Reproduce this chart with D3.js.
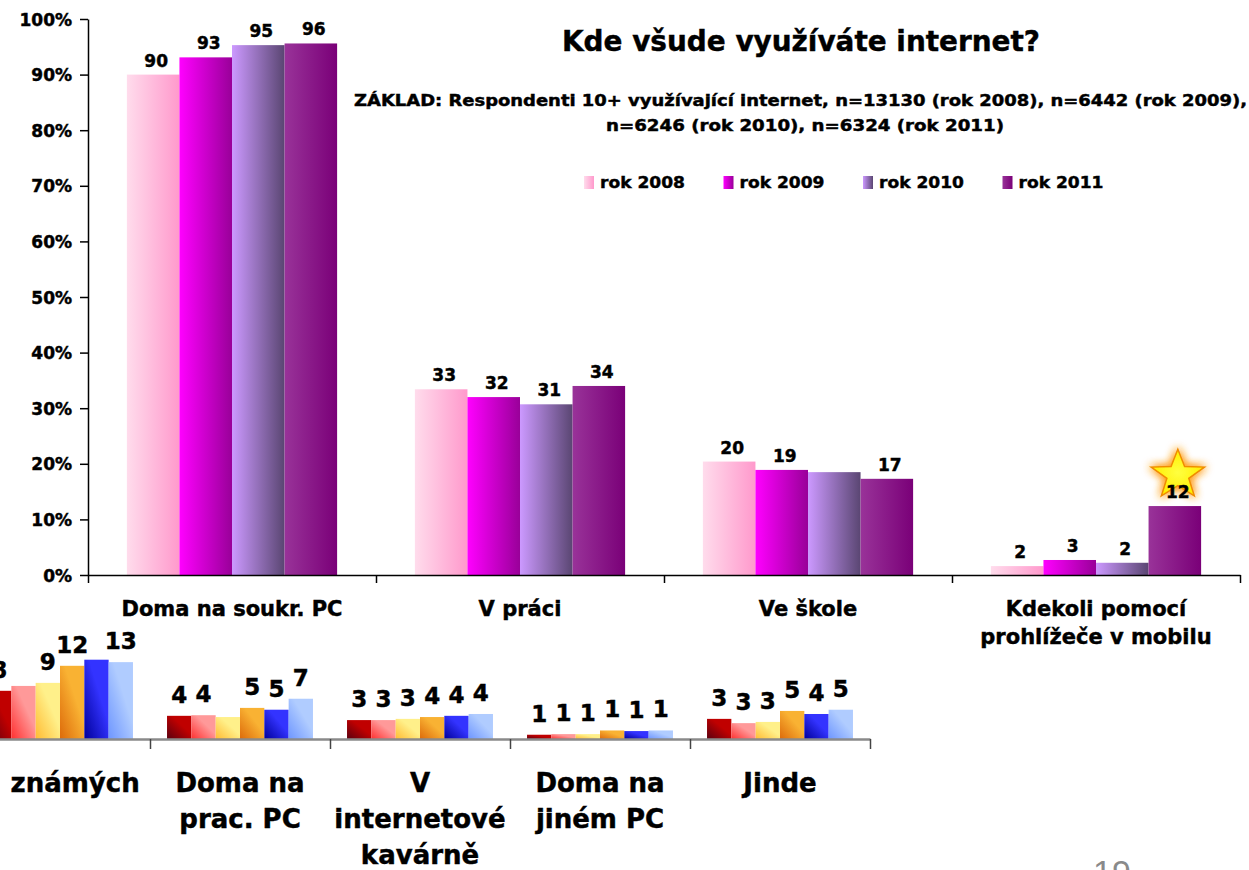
<!DOCTYPE html>
<html><head><meta charset="utf-8">
<script src="https://cdn.jsdelivr.net/npm/d3@7"></script>
<style>
body{margin:0;background:#fff;}
svg{display:block;font-family:"DejaVu Sans",Verdana,sans-serif;font-weight:bold;}
.hv{stroke:#000;stroke-width:0.45px;}
</style>
</head><body>
<svg id="c" width="1249" height="870"></svg>
<script>
// ---------- main chart data ----------
const categories = ["Doma na soukr. PC", "V práci", "Ve škole", "Kdekoli pomocí prohlížeče v mobilu"];
const categoryLines = [["Doma na soukr. PC"], ["V práci"], ["Ve škole"], ["Kdekoli pomocí", "prohlížeče v mobilu"]];
const series = ["rok 2008", "rok 2009", "rok 2010", "rok 2011"];
const v2008 = [90.0, 33.4, 20.4, 1.6];
const v2009 = [93.1, 32.0, 18.9, 2.7];
const v2010 = [95.3, 30.7, 18.5, 2.2];
const v2011 = [95.6, 34.0, 17.3, 12.4];
const lab2008 = ["90", "33", "20", "2"];
const lab2009 = ["93", "32", "19", "3"];
const lab2010 = ["95", "31", "", "2"];
const lab2011 = ["96", "34", "17", "12"];
const yTicks = [0, 10, 20, 30, 40, 50, 60, 70, 80, 90, 100];

// ---------- second (partially visible) chart data ----------
const categories2 = ["U známých", "Doma na prac. PC", "V internetové kavárně", "Doma na jiném PC", "Jinde"];
const categoryLines2 = [["U známých"], ["Doma na", "prac. PC"], ["V", "internetové", "kavárně"], ["Doma na", "jiném PC"], ["Jinde"]];
const series2 = ["s1", "s2", "s3", "s4", "s5", "s6"];
const w1 = [7.9, 3.8, 3.1, 0.7, 3.3];
const w2 = [8.7, 3.9, 3.1, 0.8, 2.6];
const w3 = [9.2, 3.6, 3.3, 0.8, 2.8];
const w4 = [12.0, 5.1, 3.6, 1.4, 4.6];
const w5 = [13.0, 4.8, 3.8, 1.3, 4.1];
const w6 = [12.6, 6.6, 4.1, 1.4, 4.8];
const l1 = ["8", "4", "3", "1", "3"];
const l2 = ["", "4", "3", "1", "3"];
const l3 = ["9", "", "3", "1", "3"];
const l4 = ["12", "5", "4", "1", "5"];
const l5 = ["", "5", "4", "1", "4"];
const l6 = ["13", "7", "4", "1", "5"];

const title = "Kde všude využíváte internet?";
const sub1 = "ZÁKLAD: Respondenti  10+ využívající internet,  n=13130  (rok 2008), n=6442 (rok 2009),";
const sub2 = "n=6246 (rok 2010), n=6324 (rok 2011)";
const pageNo = "19";

// ---------- styles ----------
const mainGrad = [["#ffdcec", "#ff99cc"], ["#ff00ff", "#990099"], ["#cc99ff", "#5a4672"], ["#993399", "#7a0078"]];
const botGrad = [["#5a0010", "#c00000"], ["#ff3030", "#ff9999"], ["#ffbb33", "#fff08a"], ["#dd6a0a", "#f9b233"], ["#00009a", "#3333ff"], ["#6e96ff", "#b0ccff"]];

const svg = d3.select("#c");
const defs = svg.append("defs");

mainGrad.forEach((c, i) => {
  const g = defs.append("linearGradient").attr("id", "mg" + i).attr("x1", 0).attr("y1", 0).attr("x2", 1).attr("y2", 0);
  g.append("stop").attr("offset", 0).attr("stop-color", c[0]);
  g.append("stop").attr("offset", 1).attr("stop-color", c[1]);
});
botGrad.forEach((c, i) => {
  const g = defs.append("linearGradient").attr("id", "bg" + i).attr("x1", 0).attr("y1", 1).attr("x2", 1).attr("y2", 0);
  g.append("stop").attr("offset", 0).attr("stop-color", c[0]);
  g.append("stop").attr("offset", 0.6).attr("stop-color", c[1]);
  g.append("stop").attr("offset", 1).attr("stop-color", c[1]);
});
const sg = defs.append("radialGradient").attr("id", "starg");
sg.append("stop").attr("offset", 0).attr("stop-color", "#ffff40");
sg.append("stop").attr("offset", 1).attr("stop-color", "#ffee00");
// glow for star
const f = defs.append("filter").attr("id", "glow").attr("x", "-60%").attr("y", "-60%").attr("width", "220%").attr("height", "220%");
f.append("feGaussianBlur").attr("in", "SourceAlpha").attr("stdDeviation", 5).attr("result", "b");
f.append("feFlood").attr("flood-color", "#ffa020").attr("flood-opacity", 1).attr("result", "fl");
f.append("feComposite").attr("in", "fl").attr("in2", "b").attr("operator", "in").attr("result", "gl");
const fm = f.append("feMerge");
fm.append("feMergeNode").attr("in", "gl");
fm.append("feMergeNode").attr("in", "gl");
fm.append("feMergeNode").attr("in", "SourceGraphic");

// ================= second chart (bottom, clipped at left) =================
const vals2 = [w1, w2, w3, w4, w5, w6];
const labs2 = [l1, l2, l3, l4, l5, l6];
const bx0 = d3.scaleBand().domain(categories2).range([-30, 870]).padding(0);
const bx1 = d3.scaleBand().domain(series2).range([0, bx0.bandwidth()]).paddingInner(0).paddingOuter(0.7);
const by = d3.scaleLinear().domain([0, 100]).range([739, 129]);

const rows2 = categories2.flatMap((c, i) => series2.map((s, j) => ({ c, s, j, v: vals2[j][i], lab: labs2[j][i] })));
const g2 = svg.append("g");
g2.selectAll("rect").data(rows2).join("rect")
  .attr("x", d => bx0(d.c) + bx1(d.s))
  .attr("y", d => by(d.v))
  .attr("width", bx1.bandwidth())
  .attr("height", d => by(0) - by(d.v))
  .attr("fill", d => `url(#bg${d.j})`);

const bAxisScale = d3.scaleLinear().domain([0, categories2.length]).range([-30, 870]);
const bAxis = g2.append("g").attr("transform", `translate(0,${by(0)})`)
  .call(d3.axisBottom(bAxisScale).tickValues(d3.range(categories2.length + 1)).tickFormat("").tickSize(10).tickSizeOuter(0));
bAxis.select(".domain").attr("stroke", "#8a8a8a").attr("stroke-width", 2.5);
bAxis.selectAll(".tick line").attr("stroke", "#444").attr("stroke-width", 1.5);

g2.selectAll("text.v").data(rows2.filter(d => d.lab)).join("text").attr("class", "v hv")
  .attr("x", d => bx0(d.c) + bx1(d.s) + bx1.bandwidth() / 2)
  .attr("y", d => by(d.v) - 13)
  .attr("text-anchor", "middle").attr("font-size", 23).attr("fill", "#000")
  .text(d => d.lab);

categories2.forEach((c, i) => {
  const t = g2.append("text").attr("class", "hv").attr("text-anchor", "middle").attr("font-size", 26).attr("fill", "#000");
  categoryLines2[i].forEach((ln, k) => {
    t.append("tspan").attr("x", bx0(c) + bx0.bandwidth() / 2).attr("y", 792 + k * 36).text(ln);
  });
});

// ================= main chart =================
const mainVals = [v2008, v2009, v2010, v2011];
const mainLabs = [lab2008, lab2009, lab2010, lab2011];
const x0 = d3.scaleBand().domain(categories).range([88, 1240]).padding(0);
const x1 = d3.scaleBand().domain(series).range([0, x0.bandwidth()]).paddingInner(0).paddingOuter(0.74);
const y = d3.scaleLinear().domain([0, 100]).range([575, 19]);

const rows = categories.flatMap((c, i) => series.map((s, j) => ({ c, s, j, v: mainVals[j][i], lab: mainLabs[j][i] })));
const g = svg.append("g");
g.selectAll("rect").data(rows).join("rect")
  .attr("x", d => x0(d.c) + x1(d.s))
  .attr("y", d => y(d.v))
  .attr("width", x1.bandwidth())
  .attr("height", d => y(0) - y(d.v))
  .attr("fill", d => `url(#mg${d.j})`);

// y axis
const yAx = g.append("g").attr("transform", "translate(88,0)")
  .call(d3.axisLeft(y).tickValues(yTicks).tickFormat(d => d + "%").tickSize(8).tickPadding(8).tickSizeOuter(0));
yAx.select(".domain").attr("stroke", "#000").attr("stroke-width", 1.5);
yAx.selectAll(".tick line").attr("stroke", "#000").attr("stroke-width", 1.5);
yAx.selectAll(".tick text").attr("class", "hv").attr("font-size", 17).attr("font-family", "DejaVu Sans").attr("font-weight", "bold").attr("fill", "#000").attr("dy", "0.36em");

// x axis
const xAxisScale = d3.scaleLinear().domain([0, categories.length]).range([88, 1240]);
const xAx = g.append("g").attr("transform", `translate(0,${y(0)})`)
  .call(d3.axisBottom(xAxisScale).tickValues(d3.range(categories.length + 1)).tickFormat("").tickSize(8).tickSizeOuter(0));
xAx.select(".domain").attr("stroke", "#000").attr("stroke-width", 1.5);
xAx.selectAll(".tick line").attr("stroke", "#000").attr("stroke-width", 1.5);

// star above the 2011 mobile bar
const starCat = categories[3], starSer = series[3];
const scx = x0(starCat) + x1(starSer) + x1.bandwidth() / 2 + 3;
const scy = y(v2011[3]) - 31;
const pts = d3.range(10).map(k => {
  const r = k % 2 === 0 ? 28 : 11.5;
  const a = -Math.PI / 2 + k * Math.PI / 5;
  return [scx + r * Math.cos(a), scy + r * Math.sin(a) * 0.92];
});
g.append("polygon").attr("points", pts.map(p => p.join(",")).join(" "))
  .attr("fill", "url(#starg)").attr("stroke", "#f08c00").attr("stroke-width", 1.5).attr("filter", "url(#glow)");

// value labels
g.selectAll("text.v").data(rows.filter(d => d.lab)).join("text").attr("class", "v hv")
  .attr("x", d => x0(d.c) + x1(d.s) + x1.bandwidth() / 2 + 3)
  .attr("y", d => y(d.v) - 8)
  .attr("text-anchor", "middle").attr("font-size", 17).attr("fill", "#000")
  .text(d => d.lab);

// category labels
categories.forEach((c, i) => {
  const t = g.append("text").attr("class", "hv").attr("text-anchor", "middle").attr("font-size", 21).attr("fill", "#000");
  categoryLines[i].forEach((ln, k) => {
    t.append("tspan").attr("x", x0(c) + x0.bandwidth() / 2).attr("y", 616 + k * 28).text(ln);
  });
});

// title & subtitle
svg.append("text").attr("class", "hv").attr("x", 562).attr("y", 51).attr("font-size", 29).attr("textLength", 478).attr("lengthAdjust", "spacingAndGlyphs").text(title);
svg.append("text").attr("class", "hv").attr("x", 354).attr("y", 106).attr("font-size", 15.5).attr("textLength", 893).attr("lengthAdjust", "spacingAndGlyphs").text(sub1);
svg.append("text").attr("class", "hv").attr("x", 606).attr("y", 131).attr("font-size", 15.5).attr("textLength", 398).attr("lengthAdjust", "spacingAndGlyphs").text(sub2);

// legend
const lg = svg.append("g").attr("transform", "translate(584,176)");
series.forEach((s, i) => {
  const it = lg.append("g").attr("transform", `translate(${i * 139.5},0)`);
  it.append("rect").attr("width", 10).attr("height", 13).attr("fill", `url(#mg${i})`);
  it.append("text").attr("class", "hv").attr("x", 16).attr("y", 12).attr("font-size", 16.5).attr("textLength", 85).attr("lengthAdjust", "spacingAndGlyphs").text(s);
});

// page number
svg.append("text").attr("x", 1112).attr("y", 884).attr("text-anchor", "middle")
  .attr("font-family", "Liberation Sans, Arial, sans-serif").attr("font-weight", "normal")
  .attr("font-size", 34).attr("fill", "#8a8a8a").text(pageNo);
</script>
</body></html>
